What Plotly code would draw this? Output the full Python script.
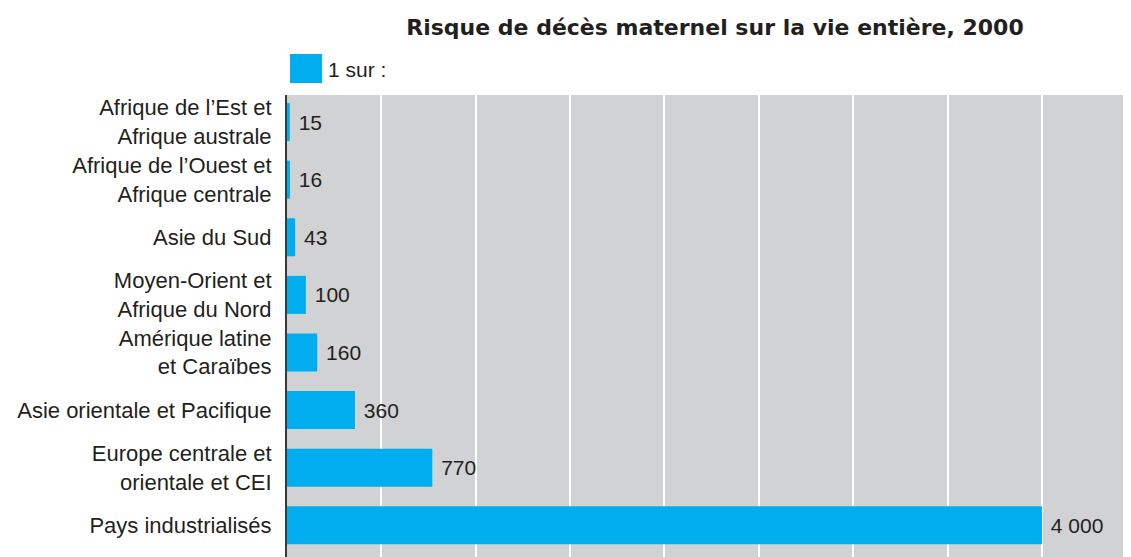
import plotly.graph_objects as go

categories = [
    "Afrique de l’Est et<br>Afrique australe",
    "Afrique de l’Ouest et<br>Afrique centrale",
    "Asie du Sud",
    "Moyen-Orient et<br>Afrique du Nord",
    "Amérique latine<br>et Caraïbes",
    "Asie orientale et Pacifique",
    "Europe centrale et<br>orientale et CEI",
    "Pays industrialisés",
]
values = [15, 16, 43, 100, 160, 360, 770, 4000]
value_labels = ["15", "16", "43", "100", "160", "360", "770", "4 000"]
series_name = "1 sur :"
title = "Risque de décès maternel sur la vie entière, 2000"

BLUE = "#00AEEF"
GRAY = "#D1D2D4"
TEXT = "#231F20"
FONT = "Liberation Sans"

OFF = 8  # page body margin
L, T = 287 - OFF, 95 - OFF
W, H = 1131 - OFF, 557 - OFF


def px_x(ix):
    return (ix - OFF - L) / (W - L)


def px_y(iy):
    return 1 - (iy - OFF - T) / (H - T)


fig = go.Figure()
fig.add_trace(go.Bar(
    y=categories, x=values, orientation="h",
    marker=dict(color=BLUE, line=dict(width=0)),
    width=0.66,
    text=[" " + t for t in value_labels],
    textposition="outside",
    textfont=dict(family=FONT, size=21, color=TEXT),
    cliponaxis=False,
    name=series_name,
    showlegend=False,
))

fig.update_layout(
    width=W, height=H,
    margin=dict(l=L, r=0, t=T, b=0),
    paper_bgcolor="white",
    plot_bgcolor=GRAY,
    font=dict(family=FONT, size=21, color=TEXT),
    title=dict(
        text="<b>" + title + "</b>",
        x=px_x(715), xref="paper", xanchor="center",
        y=1 - (27 - OFF) / H, yref="container", yanchor="middle",
        font=dict(family="DejaVu Sans", size=22, color=TEXT),
    ),
    xaxis=dict(
        range=[0, 4472], dtick=500, tick0=0,
        showgrid=True, gridcolor="white", gridwidth=2,
        showticklabels=False, zeroline=False, showline=False,
        fixedrange=True,
    ),
    yaxis=dict(
        categoryorder="array", categoryarray=categories,
        range=[7.55, -0.47],
        showline=True, linecolor="#3a3a3a", linewidth=2,
        ticks="", ticklabelstandoff=9,
        tickfont=dict(family=FONT, size=22, color=TEXT),
        showgrid=False,
    ),
    bargap=0.34,
)

# legend swatch
fig.add_shape(type="rect", xref="paper", yref="paper",
              x0=px_x(290), x1=px_x(322),
              y0=px_y(83), y1=px_y(54),
              fillcolor=BLUE, line=dict(width=0))
fig.add_annotation(text=series_name, xref="paper", yref="paper",
                   x=px_x(326), y=px_y(69),
                   xanchor="left", yanchor="middle", showarrow=False,
                   font=dict(family=FONT, size=21, color=TEXT))

fig.write_html("out.html")
